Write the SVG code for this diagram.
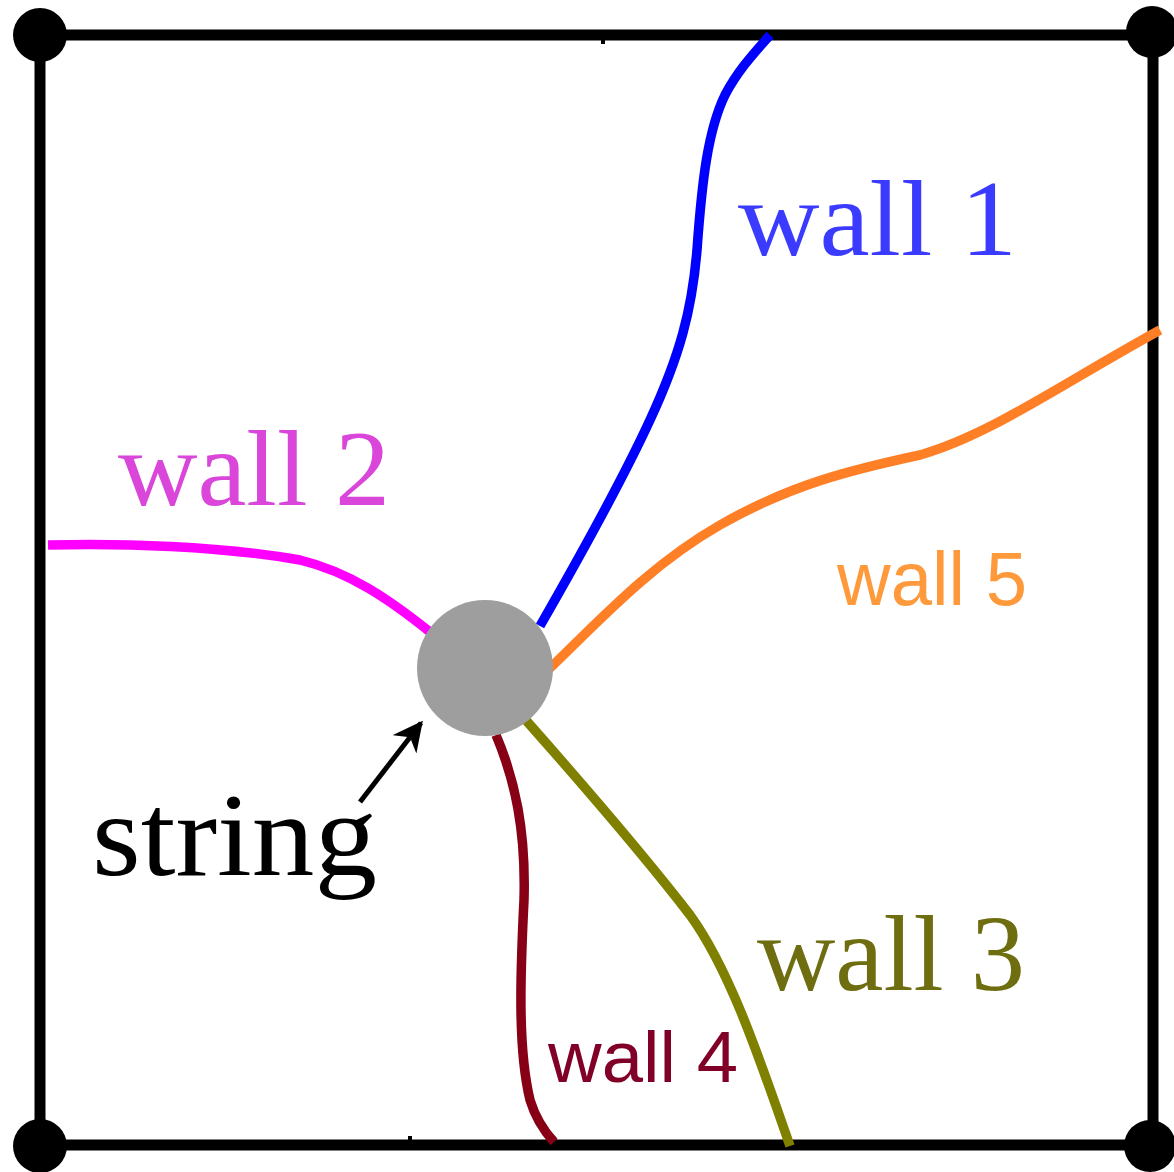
<svg xmlns="http://www.w3.org/2000/svg" width="1174" height="1172" viewBox="0 0 1174 1172">
<style>
.frame{fill:none;stroke:#000;stroke-width:11}
.wall{fill:none;stroke-width:9.5;stroke-linecap:butt;stroke-linejoin:round}
.serif{font-family:"Liberation Serif","DejaVu Serif",serif}
.sans{font-family:"Liberation Sans","DejaVu Sans",sans-serif}
</style>
<defs>
<marker id="ah" viewBox="0 0 10 10" refX="9" refY="5" markerWidth="6" markerHeight="6" orient="auto" markerUnits="strokeWidth">
<path d="M0,0 L10,5 L0,10 L3,5 Z" fill="#000"/>
</marker>
</defs>
<rect width="1174" height="1172" fill="#fff"/>
<g id="frame">
<path class="frame" d="M40,35 H1153 V1145 H40 Z"/>
<rect x="601" y="34" width="4" height="10" fill="#000"/>
<rect x="408" y="1136" width="4" height="8" fill="#000"/>
<circle cx="40" cy="35" r="27" fill="#000"/>
<circle cx="1152" cy="32" r="26" fill="#000"/>
<circle cx="40" cy="1146" r="27" fill="#000"/>
<circle cx="1150" cy="1146" r="26" fill="#000"/>
</g>
<g id="wall1">
<path class="wall" stroke="#0000ff" d="M540,626 C575,565 620,485 650,420 C680,355 692,310 697,250 C702,180 708,130 725,95 C738,70 755,52 770,35"/>
<text class="serif" x="738" y="255" font-size="107" fill="#3b3bff" textLength="279" lengthAdjust="spacingAndGlyphs">wall 1</text>
</g>
<g id="wall2">
<path class="wall" stroke="#ff00ff" d="M48,545 C120,543 220,546 300,560 C350,572 390,600 430,632"/>
<text class="serif" x="118" y="505" font-size="107" fill="#d946d9" textLength="272" lengthAdjust="spacingAndGlyphs">wall 2</text>
</g>
<g id="wall3">
<path class="wall" stroke="#808000" d="M524,718 C570,770 640,850 690,915 C730,970 760,1060 790,1146"/>
<text class="serif" x="757" y="990" font-size="107" fill="#6e6e10" textLength="268" lengthAdjust="spacingAndGlyphs">wall 3</text>
</g>
<g id="wall4">
<path class="wall" stroke="#880015" d="M496,735 C515,780 526,830 524,900 C520,980 518,1050 530,1100 C536,1120 545,1132 554,1142"/>
<text class="sans" x="548" y="1082" font-size="73" fill="#800028" textLength="190" lengthAdjust="spacingAndGlyphs">wall 4</text>
</g>
<g id="wall5">
<path class="wall" stroke="#ff7f27" d="M548,670 C600,620 650,565 720,525 C790,485 850,470 920,455 C990,435 1060,385 1160,330"/>
<text class="sans" x="837" y="605" font-size="76" fill="#ff9a3c" textLength="190" lengthAdjust="spacingAndGlyphs">wall 5</text>
</g>
<g id="string">
<circle cx="485" cy="668" r="68" fill="#9e9e9e"/>
<text class="serif" x="92" y="875" font-size="118" fill="#000" textLength="285" lengthAdjust="spacingAndGlyphs">string</text>
</g>
<g id="connectors">
<line x1="360" y1="802" x2="421" y2="723" stroke="#000" stroke-width="5" marker-end="url(#ah)"/>
</g>
</svg>
